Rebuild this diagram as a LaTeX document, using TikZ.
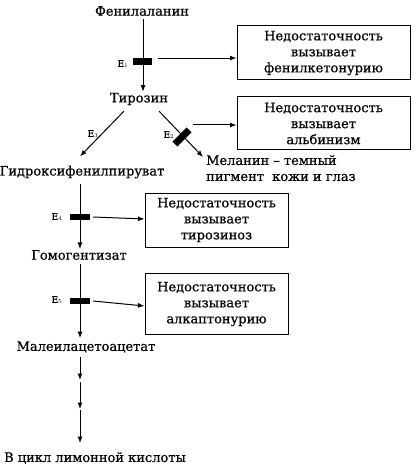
\documentclass[tikz,border=0pt]{standalone}
\usepackage{fontspec}
\setmainfont{DejaVu Serif}[FakeBold=0.6]
\usepackage{tikz}
\usetikzlibrary{arrows,arrows.meta,positioning}

\tikzset{
  met/.style={font=\fontsize{13}{16}\selectfont, inner sep=1pt},
  note/.style={draw, line width=1pt, align=center, inner sep=0pt,
    font=\fontsize{13}{16}\selectfont},
  enz/.style={fill=black, inner sep=0pt, minimum width=19pt, minimum height=6.5pt},
  elab/.style={font=\fontsize{9}{10}\selectfont, inner sep=0pt},
  flow/.style={-{Latex[length=6.5pt,width=5pt]}, line width=1pt},
}

\begin{document}
\begin{tikzpicture}[x=1pt,y=-1pt]
  \useasboundingbox (0,0) rectangle (417,470);
  % metabolites
  \node[met] (phe) at (142,11) {Фенилаланин};
  \node[met] (tyr) at (139,99) {Тирозин};
  \node[met] (hpp) at (82,172) {Гидроксифенилпируват};
  \node[met,align=left,anchor=north west] (mel) at (205,154)
    {Меланин -- темный\\пигмент\ \ кожи и глаз};
  \node[met] (hga) at (79,255) {Гомогентизат};
  \node[met] (maa) at (86,347) {Малеилацетоацетат};
  \node[met] (tca) at (95,458) {В цикл лимонной кислоты};

  % deficiency boxes
  \node[note,minimum width=173pt,minimum height=54pt] (box1) at (323.5,53)
    {Недостаточность\\вызывает\\фенилкетонурию};
  \node[note,minimum width=173pt,minimum height=53pt] (box2) at (323.5,123.5)
    {Недостаточность\\вызывает\\альбинизм};
  \node[note,minimum width=143pt,minimum height=54pt] (box3) at (216.5,220)
    {Недостаточность\\вызывает\\тирозиноз};
  \node[note,minimum width=143pt,minimum height=61pt] (box4) at (216.5,304)
    {Недостаточность\\вызывает\\алкаптонурию};

  % enzyme blocks
  \node[enz] (b1) at (142.5,61.5) {};
  \node[enz,rotate=45,minimum width=20pt,minimum height=7pt] (b2) at (182,137) {};
  \node[enz,minimum width=20pt] (b4) at (80,217) {};
  \node[enz,minimum width=20pt] (b5) at (80,301) {};
  \node[elab] (e1) at (123,64) {E$_1$};
  \node[elab] (e2) at (169,135) {E$_2$};
  \node[elab] (e3) at (93,134) {E$_3$};
  \node[elab] (e4) at (57,217) {E$_4$};
  \node[elab] (e5) at (57,300) {E$_5$};
  \coordinate (m2) at (193,125);
  \coordinate (s1) at (80,380);
  \coordinate (s2) at (80,409);

  % main pathway
  \draw[flow] ([xshift=1pt,yshift=-2pt]phe.south) -- ([xshift=1pt]phe.south |- tyr.north);
  \draw[flow] (tyr.south west) ++(15,5) -- ([xshift=-2pt,yshift=8pt]hpp.north);
  \draw[flow] (tyr.south east) ++(-10,5) -- ([xshift=-2pt,yshift=-3pt]mel.north west);
  \draw[flow] ([yshift=-4pt]hpp.south -| b4) -- (hga.north -| b4);
  \draw[flow] ([yshift=-3pt]hga.south -| b5) -- ([yshift=2pt]maa.north -| b5);
  \draw[flow] ([yshift=-3pt]maa.south -| b5) -- (s1);
  \draw[flow] ([yshift=-2pt]s1) -- (s2);
  \draw[flow] ([yshift=-1pt]s2) -- ([yshift=8pt]tca.north -| b5);

  % deficiency arrows
  \draw[flow] ([xshift=6pt]b1.north east) -- (b1.north east -| box1.west);
  \draw[flow] (m2) -- (m2 -| box2.west);
  \draw[flow] ([xshift=3pt]b4.east) -- ([yshift=1pt]box3.west);
  \draw[flow] ([xshift=3pt]b5.east) -- ([yshift=-2pt]box4.west);
\end{tikzpicture}
\end{document}
